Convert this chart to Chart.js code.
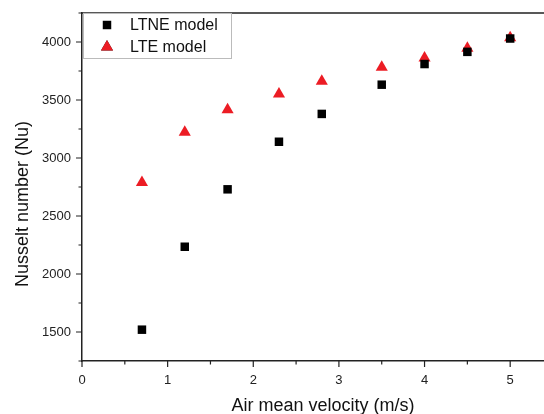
<!DOCTYPE html>
<html>
<head>
<meta charset="utf-8">
<script src="https://cdn.jsdelivr.net/npm/chart.js@4/dist/chart.umd.min.js"></script>
<style>
  html, body { margin: 0; padding: 0; background: #fff; overflow: hidden; }
  #wrap { width: 560px; height: 414px; }
</style>
</head>
<body>
<div id="wrap"><canvas id="nuChart" width="560" height="414"></canvas></div>
<script>
// air mean velocity (m/s)
const velocity = [0.7, 1.2, 1.7, 2.3, 2.8, 3.5, 4.0, 4.5, 5.0];
// Nusselt number
const ltneNu = [1520, 2235, 2730, 3140, 3380, 3632, 3810, 3915, 4030];
const lteNu = [2788, 3222, 3415, 3552, 3662, 3783, 3861, 3946, 4036];

const xTicks = [0, 1, 2, 3, 4, 5];
const xMinorTicks = [0.5, 1.5, 2.5, 3.5, 4.5];
const yTicks = [1500, 2000, 2500, 3000, 3500, 4000];
const yMinorTicks = [1250, 1750, 2250, 2750, 3250, 3750, 4250];

const seriesNames = ['LTNE model', 'LTE model'];
const xTitle = 'Air mean velocity (m/s)';
const yTitle = 'Nusselt number (Nu)';
const axisColor = '#222';
const red = '#ec1c24';
const fontFamily = '"Liberation Sans", Arial, sans-serif';

const toPoints = (ys) => velocity.map((v, i) => ({ x: v, y: ys[i] }));

// outer tick marks, frame, axis titles and the boxed legend inside the plot
const framePlugin = {
    id: 'frame',
    afterDraw(chart) {
        const ctx = chart.ctx;
        const area = chart.chartArea;
        const xs = chart.scales.x;
        const ys = chart.scales.y;

        ctx.save();
        ctx.strokeStyle = axisColor;
        ctx.lineWidth = 1.5;
        ctx.beginPath();
        ctx.moveTo(area.left, area.top);
        ctx.lineTo(area.right, area.top);
        ctx.lineTo(area.right, area.bottom);
        ctx.stroke();

        ctx.lineWidth = 1.2;
        ctx.beginPath();
        xTicks.forEach(v => {
            const px = xs.getPixelForValue(v);
            ctx.moveTo(px, area.bottom);
            ctx.lineTo(px, area.bottom + 6);
        });
        xMinorTicks.forEach(v => {
            const px = xs.getPixelForValue(v);
            ctx.moveTo(px, area.bottom);
            ctx.lineTo(px, area.bottom + 3.5);
        });
        yTicks.forEach(v => {
            const py = ys.getPixelForValue(v);
            ctx.moveTo(area.left, py);
            ctx.lineTo(area.left - 6, py);
        });
        yMinorTicks.forEach(v => {
            const py = ys.getPixelForValue(v);
            ctx.moveTo(area.left, py);
            ctx.lineTo(area.left - 3.5, py);
        });
        ctx.stroke();

        // axis titles
        ctx.fillStyle = '#111';
        ctx.font = '18px ' + fontFamily;
        ctx.textAlign = 'center';
        ctx.textBaseline = 'middle';
        ctx.fillText(xTitle, 323, 406);
        ctx.save();
        ctx.translate(23, 204);
        ctx.rotate(-Math.PI / 2);
        ctx.fillText(yTitle, 0, 0);
        ctx.restore();

        // legend box
        const bx = area.left + 1, by = area.top, bw = 148, bh = 45;
        ctx.fillStyle = '#fff';
        ctx.fillRect(bx, by, bw, bh);
        ctx.strokeStyle = '#bbb';
        ctx.lineWidth = 1;
        ctx.strokeRect(bx + 0.5, by + 0.5, bw, bh);

        ctx.font = '16px ' + fontFamily;
        ctx.textAlign = 'left';
        ctx.textBaseline = 'middle';
        chart.data.datasets.forEach((ds, i) => {
            const cy = by + 12 + i * 22;
            Chart.helpers.drawPoint(ctx, {
                pointStyle: ds.pointStyle,
                radius: ds.pointRadius,
                borderWidth: 0
            }, bx + 24, cy);
            ctx.fillStyle = ds.backgroundColor;
            ctx.fill();
            ctx.fillStyle = '#111';
            ctx.fillText(seriesNames[i], bx + 47, cy + 1);
        });
        ctx.restore();
    }
};

new Chart(document.getElementById('nuChart'), {
    type: 'scatter',
    data: {
        datasets: [{
            label: seriesNames[0],
            data: toPoints(ltneNu),
            pointStyle: 'rect',
            pointRadius: 6,
            backgroundColor: '#000',
            borderColor: '#000',
            borderWidth: 0
        }, {
            label: seriesNames[1],
            data: toPoints(lteNu),
            pointStyle: 'triangle',
            pointRadius: 7,
            backgroundColor: red,
            borderColor: red,
            borderWidth: 0
        }]
    },
    plugins: [framePlugin],
    options: {
        responsive: false,
        animation: false,
        layout: { padding: { top: 13, right: 3, left: 0, bottom: 0 } },
        plugins: {
            legend: { display: false },
            tooltip: { enabled: false }
        },
        scales: {
            x: {
                type: 'linear',
                min: 0,
                max: 5.5,
                afterBuildTicks: (scale) => { scale.ticks = xTicks.map(v => ({ value: v })); },
                afterFit: (scale) => {
                    scale.height = 53;
                    scale.paddingLeft = 0;
                    scale.paddingRight = 0;
                },
                grid: { display: false },
                border: { display: true, color: axisColor, width: 1.5 },
                ticks: {
                    padding: 4,
                    color: '#222',
                    callback: (v) => String(v),
                    font: { family: fontFamily, size: 13 }
                }
            },
            y: {
                min: 1250,
                max: 4250,
                afterBuildTicks: (scale) => { scale.ticks = yTicks.map(v => ({ value: v })); },
                afterFit: (scale) => {
                    scale.width = 82;
                    scale.paddingTop = 0;
                    scale.paddingBottom = 0;
                },
                grid: { display: false },
                border: { display: true, color: axisColor, width: 1.5 },
                ticks: {
                    padding: 3,
                    color: '#222',
                    callback: (v) => String(v),
                    font: { family: fontFamily, size: 13 }
                }
            }
        }
    }
});
</script>
</body>
</html>
